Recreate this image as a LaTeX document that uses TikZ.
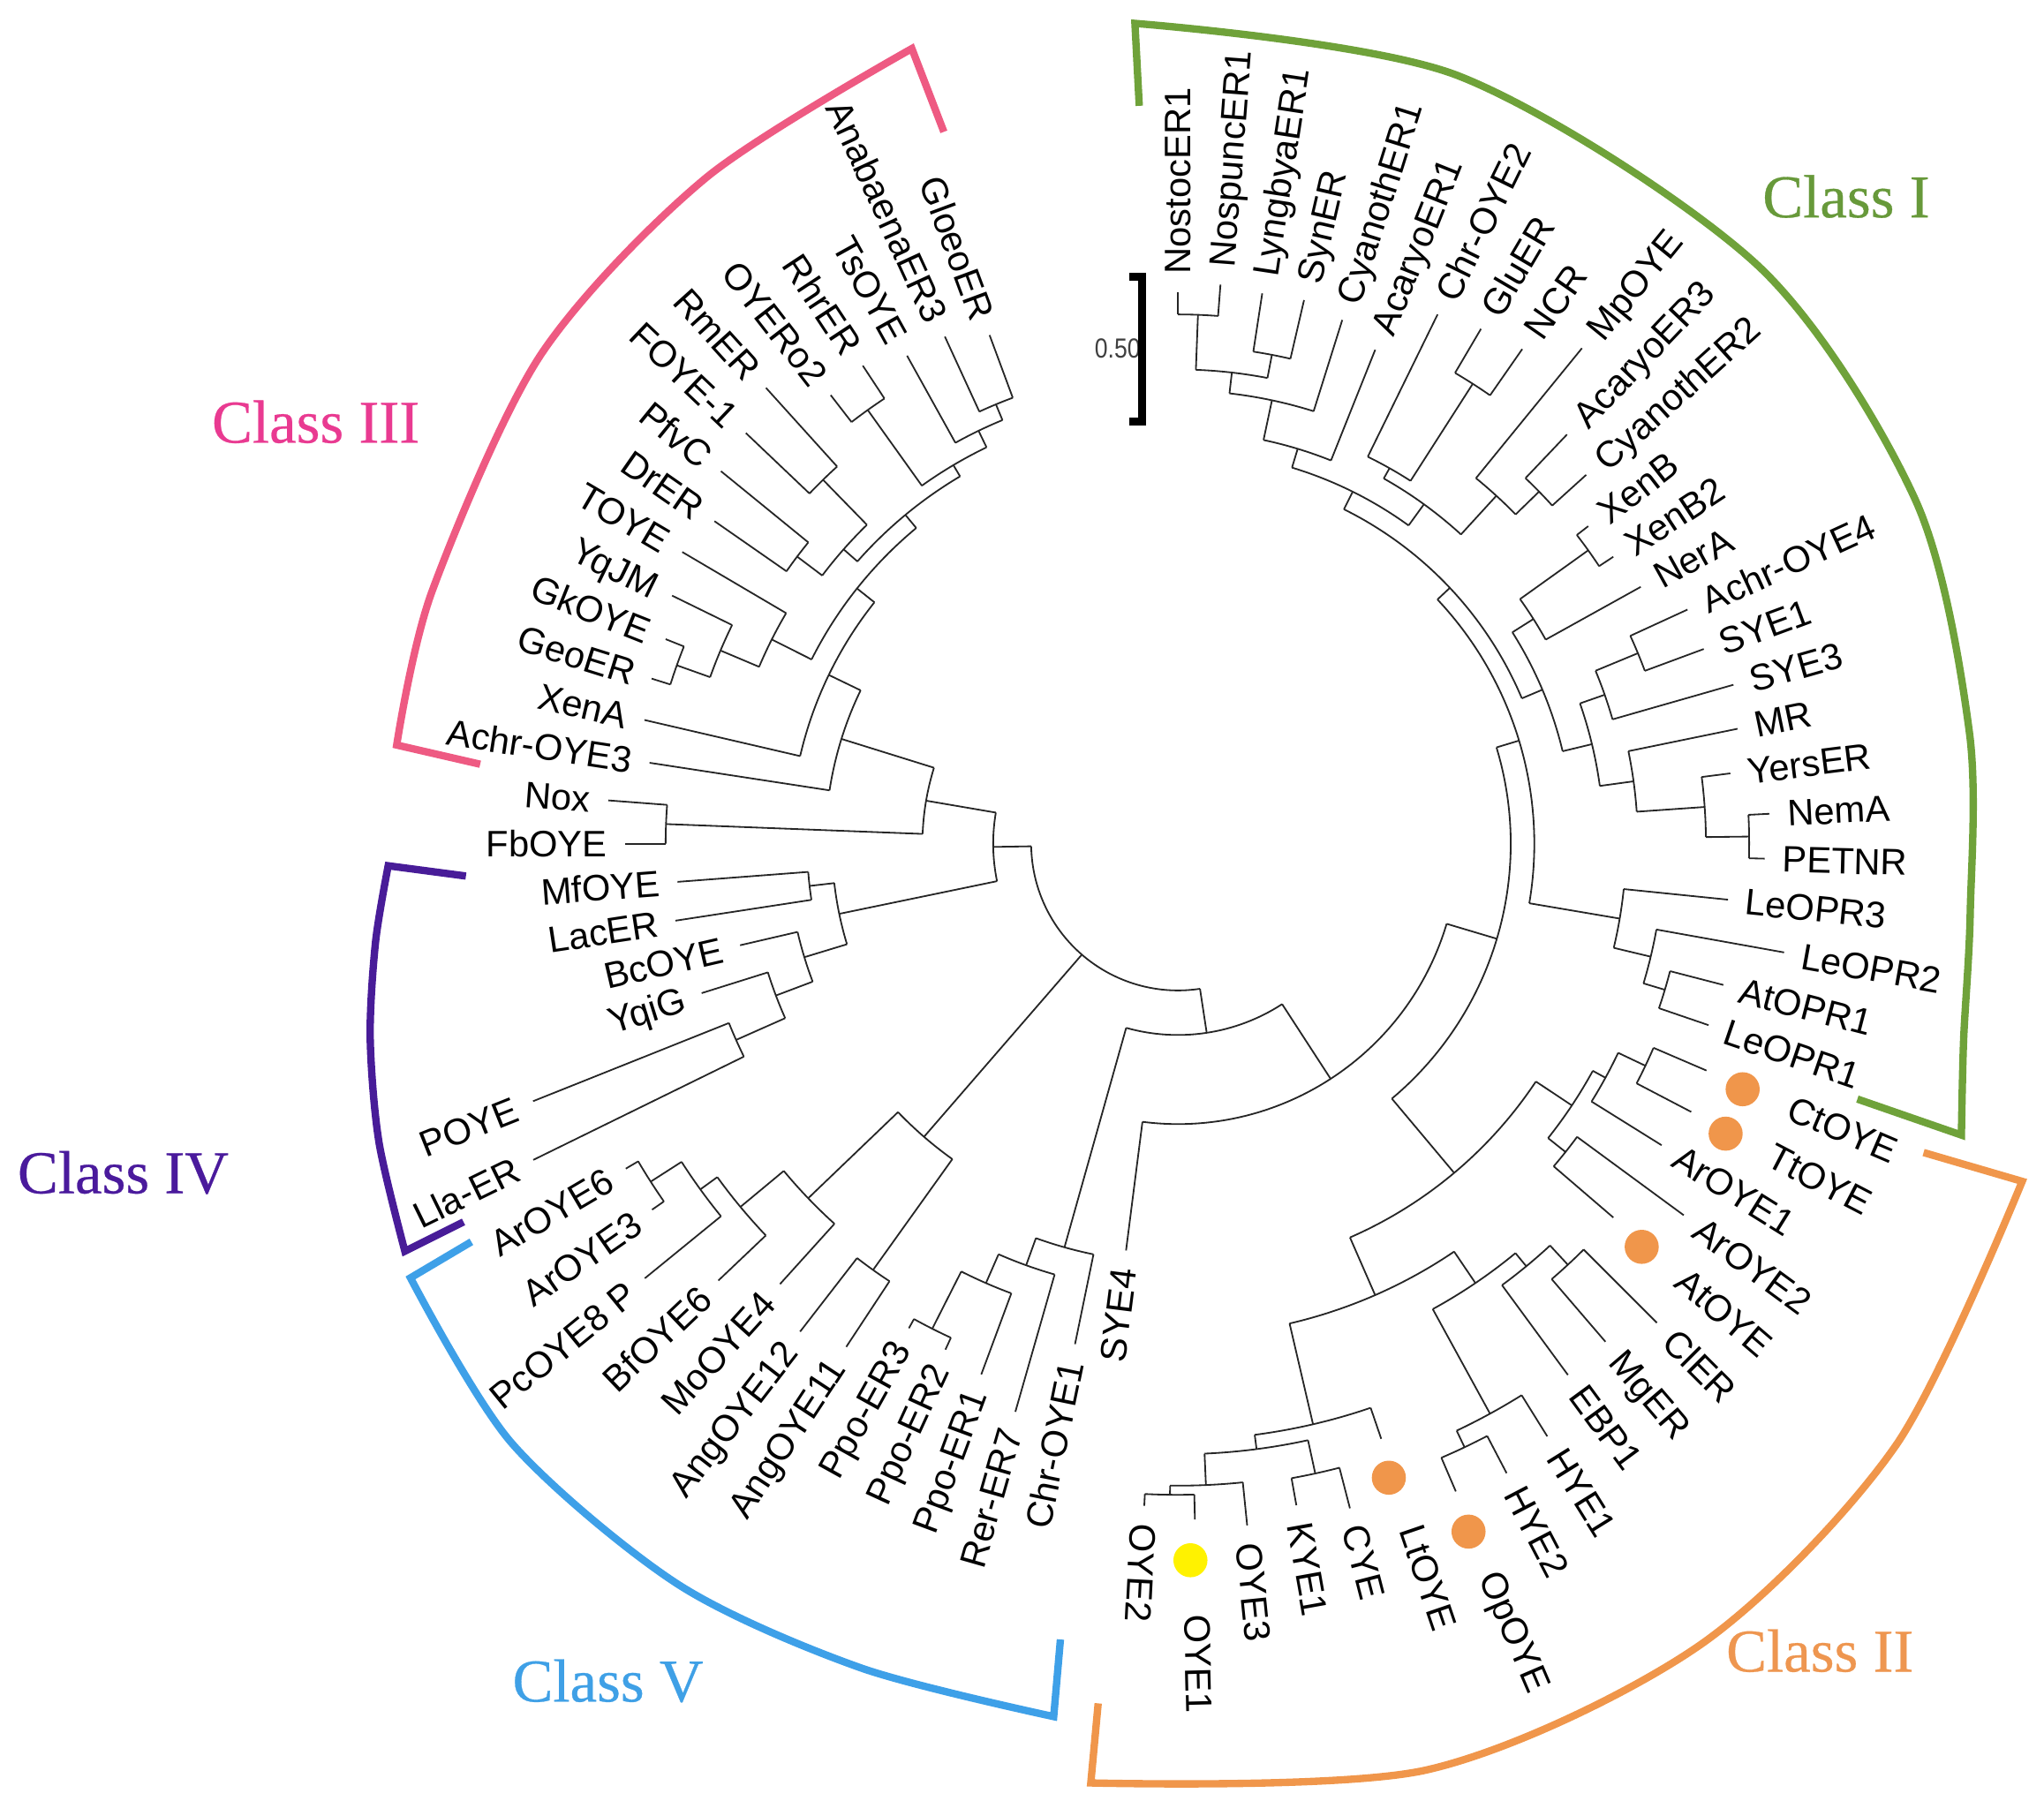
\documentclass[tikz,border=0pt]{standalone}
\usepackage{fontspec}
\setmainfont{Liberation Sans}
\newfontfamily\serifclass[FakeBold=0.4]{Liberation Serif}
\definecolor{gI}{HTML}{6FA23A}
\definecolor{oII}{HTML}{F0964B}
\definecolor{pIII}{HTML}{EE5A82}
\definecolor{vIV}{HTML}{481C98}
\definecolor{bV}{HTML}{3EA0E8}
\definecolor{tI}{HTML}{67993A}
\definecolor{tII}{HTML}{EE9650}
\definecolor{tIII}{HTML}{E93A91}
\definecolor{tIV}{HTML}{4A1A9C}
\definecolor{tV}{HTML}{3FA0E6}
\definecolor{dotO}{HTML}{F0964B}
\definecolor{dotY}{HTML}{FFF200}
\newcommand\Arc[3]{\draw[tree] (#1:#3) arc[start angle=#1, end angle=#2, radius=#3];}
\newcommand\Rad[3]{\draw[tree] (#1:#2) -- (#1:#3);}
\newcommand\LR[4]{\node[lab,anchor=west,rotate=#1] (#4) at (#1:#2) {#3};}
\newcommand\LL[4]{\node[lab,anchor=east,rotate=#1-180] (#4) at (#1:#2) {#3};}
\begin{document}
\begin{tikzpicture}[x=0.1mm,y=0.1mm,
  tree/.style={line width=0.35pt, draw=black!85},
  lab/.style={font=\fontsize{8}{9}\selectfont, inner sep=0pt, text height=5.7pt, text depth=0pt},
  brk/.style={line width=1.6pt, line join=miter},
  cls/.style={font=\serifclass\fontsize{13.2}{15}\selectfont, inner sep=0pt},
  dot/.style={circle, inner sep=0pt, minimum size=2.6mm}]
\useasboundingbox (0,0) rectangle (1560,1386);
\begin{scope}[shift={(899,742)}]
% ---------- root ----------
\Arc{181.0}{278.65}{112}
\Rad{181.0}{112}{141}
\Rad{229.1}{112}{296}
\Rad{278.65}{112}{146}
% ---------- left group (Class III, Nox/FbOYE, Class IV) ----------
\Arc{170.3}{191.7}{141}
\Rad{170.3}{141}{195}
\Rad{191.7}{141}{264}
\Arc{162.7}{177.8}{195}
\Rad{177.8}{195}{391}
\Rad{162.7}{195}{269}
\Arc{175.65}{180}{391}
\Rad{175.65}{391}{436}
\Rad{180}{391}{422}
\Arc{154.2}{171.29}{269}
\Rad{171.29}{269}{408}
\Rad{154.2}{269}{296}
\Arc{141.5}{166.94}{296}
\Rad{166.94}{296}{418}
\Rad{141.5}{296}{313}
\Arc{129.65}{153.3}{313}
\Rad{153.3}{313}{347}
\Rad{129.65}{313}{326}
\Arc{149.52}{157.1}{347}
\Rad{149.52}{347}{439}
\Rad{157.1}{347}{379}
\Arc{153.87}{160.4}{379}
\Rad{153.87}{379}{430}
\Rad{160.4}{379}{406}
\Arc{158.23}{162.58}{406}
\Rad{158.23}{406}{421}
\Rad{162.58}{406}{421}
\Arc{120.67}{138.63}{326}
\Rad{138.63}{326}{340}
\Rad{120.67}{326}{336}
\Arc{134.28}{142.98}{340}
\Rad{142.98}{340}{364}
\Rad{134.28}{340}{388}
\Arc{140.81}{145.16}{364}
\Rad{145.16}{364}{431}
\Rad{140.81}{364}{450}
\Arc{132.1}{136.45}{388}
\Rad{136.45}{388}{455}
\Rad{132.1}{388}{469}
\Arc{115.77}{125.57}{336}
\Rad{125.57}{336}{407}
\Rad{115.77}{336}{350}
\Arc{123.39}{127.74}{407}
\Rad{127.74}{407}{433}
\Rad{123.39}{407}{437}
\Arc{112.5}{119.03}{350}
\Rad{119.03}{350}{426}
\Rad{112.5}{350}{363}
\Arc{110.32}{114.68}{363}
\Rad{114.68}{363}{426}
\Rad{110.32}{363}{414}
% Class IV
\Arc{186.54}{196.9}{264}
\Rad{186.54}{264}{283}
\Rad{196.9}{264}{298}
\Arc{184.36}{188.71}{283}
\Rad{184.36}{283}{383}
\Rad{188.71}{283}{388}
\Arc{193.06}{200.69}{298}
\Rad{193.06}{298}{343}
\Rad{200.69}{298}{328}
\Arc{197.42}{203.95}{328}
\Rad{197.42}{328}{381}
\Rad{203.95}{328}{369}
\Arc{201.77}{206.13}{369}
\Rad{201.77}{369}{530}
\Rad{206.13}{369}{548}
% ---------- Class V main group ----------
\Arc{223.8}{234.43}{296}
\Rad{223.8}{296}{391}
\Rad{234.43}{296}{400}
\Arc{219.7}{227.9}{391}
\Rad{227.9}{391}{453}
\Rad{219.7}{391}{434}
\Arc{215.9}{223.55}{434}
\Rad{223.55}{434}{484}
\Rad{215.9}{434}{450}
\Arc{212.66}{219.19}{450}
\Rad{219.19}{450}{525}
\Rad{212.66}{450}{478}
\Arc{210.48}{214.84}{478}
\Rad{210.48}{478}{489}
\Rad{214.84}{478}{489}
\Arc{232.25}{236.61}{400}
\Rad{232.25}{400}{471}
\Rad{236.61}{400}{460}
% ---------- right group ----------
\Arc{254.3}{303.0}{146}
\Rad{254.3}{146}{320}
\Rad{303.0}{146}{214}
\Arc{250.2}{258.38}{320}
\Rad{258.38}{320}{390}
\Rad{250.2}{320}{342}
\Arc{246.4}{254.03}{342}
\Rad{254.03}{342}{451}
\Rad{246.4}{342}{366}
\Arc{243.14}{249.67}{366}
\Rad{249.67}{366}{432}
\Rad{243.14}{366}{415}
\Arc{240.96}{245.32}{415}
\Rad{240.96}{415}{423}
\Rad{245.32}{415}{425}
\Arc{262.73}{343.4}{214}
\Rad{262.73}{214}{313}
\Rad{343.4}{214}{254}
\Arc{310.0}{376.82}{254}
\Rad{310.0}{254}{328}
\Rad{16.82}{254}{272}
% Class II
\Arc{293.6}{326.4}{328}
\Rad{293.6}{328}{376}
\Rad{326.4}{328}{361}
\Arc{321.5}{331.3}{361}
\Rad{331.3}{361}{372}
\Rad{321.5}{361}{378}
\Arc{328.06}{334.59}{372}
\Rad{328.06}{372}{435}
\Rad{334.59}{372}{395}
\Arc{332.41}{336.77}{395}
\Rad{336.77}{395}{439}
\Rad{332.41}{395}{442}
\Arc{319.35}{323.7}{378}
\Rad{323.7}{378}{479}
\Rad{319.35}{378}{438}
\Arc{283.1}{304.1}{376}
\Rad{283.1}{376}{455}
\Rad{304.1}{376}{405}
\Arc{298.7}{309.5}{405}
\Rad{298.7}{405}{496}
\Rad{309.5}{405}{418}
\Arc{306.28}{312.8}{418}
\Rad{306.28}{418}{503}
\Rad{312.8}{418}{438}
\Arc{310.64}{314.99}{438}
\Rad{310.64}{438}{501}
\Rad{314.99}{438}{517}
\Arc{295.4}{301.93}{496}
\Rad{301.93}{496}{533}
\Rad{295.4}{496}{510}
\Arc{293.22}{297.57}{510}
\Rad{297.57}{510}{542}
\Rad{293.22}{510}{538}
\Arc{277.4}{288.86}{455}
\Rad{288.86}{455}{480}
\Rad{277.4}{455}{466}
\Arc{272.5}{282.3}{466}
\Rad{272.5}{466}{490}
\Rad{282.3}{466}{492}
\Arc{280.15}{284.51}{492}
\Rad{280.15}{492}{513}
\Rad{284.51}{492}{524}
\Arc{269.3}{275.8}{490}
\Rad{275.8}{490}{523}
\Rad{269.3}{490}{497}
\Arc{267.09}{271.44}{497}
\Rad{267.09}{497}{506}
\Rad{271.44}{497}{516}
% Class I
\Arc{-9.62}{43.26}{272}
\Rad{-9.62}{272}{342}
\Rad{43.26}{272}{285}
\Arc{-13.44}{-5.81}{342}
\Rad{-5.81}{342}{422}
\Rad{-13.44}{342}{371}
\Arc{-16.7}{-10.17}{371}
\Rad{-10.17}{371}{470}
\Rad{-16.7}{371}{388}
\Arc{-18.88}{-14.52}{388}
\Rad{-14.52}{388}{430}
\Rad{-18.88}{388}{428}
\Arc{22.91}{63.6}{285}
\Rad{22.91}{285}{302}
\Rad{63.6}{285}{300}
\Arc{13.52}{32.3}{302}
\Rad{32.3}{302}{321}
\Rad{13.52}{302}{325}
\Arc{29.03}{35.57}{321}
\Rad{29.03}{321}{404}
\Rad{35.57}{321}{385}
\Arc{33.39}{37.74}{385}
\Rad{37.74}{385}{396}
\Rad{33.39}{385}{398}
\Arc{7.8}{19.24}{325}
\Rad{19.24}{325}{345}
\Rad{7.8}{325}{351}
\Arc{15.97}{22.5}{345}
\Rad{15.97}{345}{441}
\Rad{22.5}{345}{380}
\Arc{20.32}{24.68}{380}
\Rad{24.68}{380}{428}
\Rad{20.32}{380}{428}
\Arc{3.99}{11.61}{351}
\Rad{11.61}{351}{436}
\Rad{3.99}{351}{403}
\Arc{0.72}{7.26}{403}
\Rad{7.26}{403}{425}
\Rad{0.72}{403}{436}
\Arc{-1.46}{2.90}{436}
\Rad{2.90}{436}{452}
\Rad{-1.46}{436}{448}
\Arc{54.07}{73.13}{300}
\Rad{73.13}{300}{315}
\Rad{54.07}{300}{320}
\Arc{68.23}{78.03}{315}
\Rad{68.23}{315}{406}
\Rad{78.03}{315}{346}
\Arc{72.58}{83.47}{346}
\Rad{72.58}{346}{419}
\Rad{83.47}{346}{362}
\Arc{79.12}{87.83}{362}
\Rad{87.83}{362}{404}
\Rad{79.12}{362}{380}
\Arc{85.65}{90}{404}
\Rad{90}{404}{421}
\Rad{85.65}{404}{428}
\Arc{76.94}{81.29}{380}
\Rad{81.29}{380}{425}
\Rad{76.94}{380}{426}
\Arc{47.54}{60.6}{320}
\Rad{60.6}{320}{329}
\Rad{47.54}{320}{360}
\Arc{57.34}{63.87}{329}
\Rad{63.87}{329}{450}
\Rad{57.34}{329}{417}
\Arc{55.16}{59.52}{417}
\Rad{59.52}{417}{456}
\Rad{55.16}{417}{460}
\Arc{44.28}{50.81}{360}
\Rad{50.81}{360}{488}
\Rad{44.28}{360}{385}
\Arc{42.10}{46.45}{385}
\Rad{46.45}{385}{431}
\Rad{42.10}{385}{420}
% ---------- dots ----------
\node[dot,fill=dotO] (d1) at (-23.5:470) {};
\node[dot,fill=dotO] (d2) at (-27.9:473) {};
\node[dot,fill=dotO] (d3) at (-41:469) {};
\node[dot,fill=dotO] (d4) at (-71.6:510) {};
\node[dot,fill=dotO] (d5) at (-67.1:570) {};
\node[dot,fill=dotY] (d6) at (-89:547) {};
% ---------- labels right ----------
\LR{90}{434}{NostocER1}{l0}
\LR{85.65}{441}{NospuncER1}{l1}
\LR{81.29}{438}{LyngbyaER1}{l2}
\LR{76.94}{439}{SynER}{l3}
\LR{72.58}{432}{CyanothER1}{l4}
\LR{68.23}{419}{AcaryoER1}{l5}
\LR{63.87}{463}{Chr-OYE2}{l6}
\LR{59.52}{469}{GluER}{l7}
\LR{55.16}{473}{NCR}{l8}
\LR{50.81}{501}{MpOYE}{l9}
\LR{46.45}{444}{AcaryoER3}{l10}
\LR{42.10}{433}{CyanothER2}{l11}
\LR{37.74}{409}{XenB}{l12}
\LR{33.39}{411}{XenB2}{l13}
\LR{29.03}{417}{NerA}{l14}
\LR{24.68}{441}{Achr-OYE4}{l15}
\LR{20.32}{441}{SYE1}{l16}
\LR{15.97}{454}{SYE3}{l17}
\LR{11.61}{449}{MR}{l18}
\LR{7.26}{438}{YersER}{l19}
\LR{2.90}{465}{NemA}{l20}
\LR{-1.46}{461}{PETNR}{l21}
\LR{-5.81}{435}{LeOPR3}{l22}
\LR{-10.17}{483}{LeOPR2}{l23}
\LR{-14.52}{443}{AtOPR1}{l24}
\LR{-18.88}{441}{LeOPR1}{l25}
\LR{-23.23}{508}{CtOYE}{l26}
\LR{-27.59}{510}{TtOYE}{l27}
\LR{-31.94}{448}{ArOYE1}{l28}
\LR{-36.30}{492}{ArOYE2}{l29}
\LR{-40.65}{506}{AtOYE}{l30}
\LR{-45.01}{530}{ClER}{l31}
\LR{-49.36}{514}{MgER}{l32}
\LR{-53.72}{516}{EBP1}{l33}
\LR{-58.07}{546}{HYE1}{l34}
\LR{-62.43}{555}{HYE2}{l35}
\LR{-66.78}{605}{OpOYE}{l36}
\LR{-71.14}{550}{LtOYE}{l37}
\LR{-75.49}{537}{CYE}{l38}
\LR{-79.85}{526}{KYE1}{l39}
\LR{-84.20}{536}{OYE3}{l40}
\LR{-88.56}{588}{OYE1}{l41}
\LR{-92.91}{519}{OYE2}{l42}
% ---------- labels left ----------
\LL{262.73}{326}{SYE4}{l43}
\LL{258.38}{403}{Chr-OYE1}{l44}
\LL{254.03}{464}{Rer-ER7}{l45}
\LL{249.67}{445}{Ppo-ER1}{l46}
\LL{245.32}{438}{Ppo-ER2}{l47}
\LL{240.96}{436}{Ppo-ER3}{l48}
\LL{236.61}{473}{AngOYE11}{l49}
\LL{232.25}{484}{AngOYE12}{l50}
\LL{227.90}{466}{MoOYE4}{l51}
\LL{223.55}{497}{BfOYE6}{l52}
\LL{219.19}{538}{PcOYE8 P}{l53}
\LL{214.84}{502}{ArOYE3}{l54}
\LL{210.48}{502}{ArOYE6}{l55}
\LL{206.13}{561}{Lla-ER}{l56}
\LL{201.77}{543}{POYE}{l57}
\LL{197.42}{394}{YqiG}{l58}
\LL{193.06}{356}{BcOYE}{l59}
\LL{188.71}{401}{LacER}{l60}
\LL{184.36}{396}{MfOYE}{l61}
\LL{180.00}{435}{FbOYE}{l62}
\LL{175.65}{449}{Nox}{l63}
\LL{171.29}{421}{Achr-OYE3}{l64}
\LL{166.94}{431}{XenA}{l65}
\LL{162.58}{434}{GeoER}{l66}
\LL{158.23}{434}{GkOYE}{l67}
\LL{153.87}{443}{YqJM}{l68}
\LL{149.52}{452}{TOYE}{l69}
\LL{145.16}{444}{DrER}{l70}
\LL{140.81}{463}{PfvC}{l71}
\LL{136.45}{468}{FOYE-1}{l72}
\LL{132.10}{482}{RmER}{l73}
\LL{127.74}{446}{OYERo2}{l74}
\LL{123.39}{450}{RhrER}{l75}
\LL{119.03}{439}{TsOYE}{l76}
\LL{114.68}{439}{AnabaenaER3}{l77}
\LL{110.32}{427}{GloeoER}{l78}
% ---------- class brackets ----------
\draw[brk,gI] (93:564) -- plot[smooth] coordinates {(93:627) (70:624) (45:625) (25:621) (8:610) (-5:607) (-14:618) (-20.4:638)} -- (-20.6:554);
\draw[brk,oII] (-22.5:616) -- plot[smooth] coordinates {(-21.8:694) (-40:715) (-57:730) (-75:732) (-95.3:720)} -- (-95.3:659);
\draw[brk,bV] (209.4:619) -- plot[smooth] coordinates {(209.5:673) (222:684) (236:682) (249:674) (261.9:673)} -- (261.6:614);
\draw[brk,vIV] (182.6:544) -- plot[smooth] coordinates {(181.6:603) (187:617) (193.5:634) (200.5:651) (207.8:667)} -- (207.9:617);
\draw[brk,pIII] (173.5:536) -- plot[smooth] coordinates {(172.8:601) (161.3:601) (142.5:613) (125.3:623) (108.5:640)} -- (108.2:572);
\end{scope}
% ---------- scale bar ----------
\node[font=\fontsize{6}{7}\selectfont, text=black!75, anchor=east, inner sep=0pt, xscale=0.85] (sc) at (871,1120) {0.50};
\draw[line width=1.7pt] (862,1175) -- (871.6,1175) -- (871.6,1064) -- (862,1064);
% ---------- class labels ----------
\node[cls,text=tI] (cI) at (1409,1236) {Class I};
\node[cls,text=tII] (cII) at (1389,126) {Class II};
\node[cls,text=tIII] (cIII) at (241,1064) {Class III};
\node[cls,text=tIV] (cIV) at (94,491) {Class IV};
\node[cls,text=tV] (cV) at (464,103) {Class V};
\end{tikzpicture}
\end{document}
